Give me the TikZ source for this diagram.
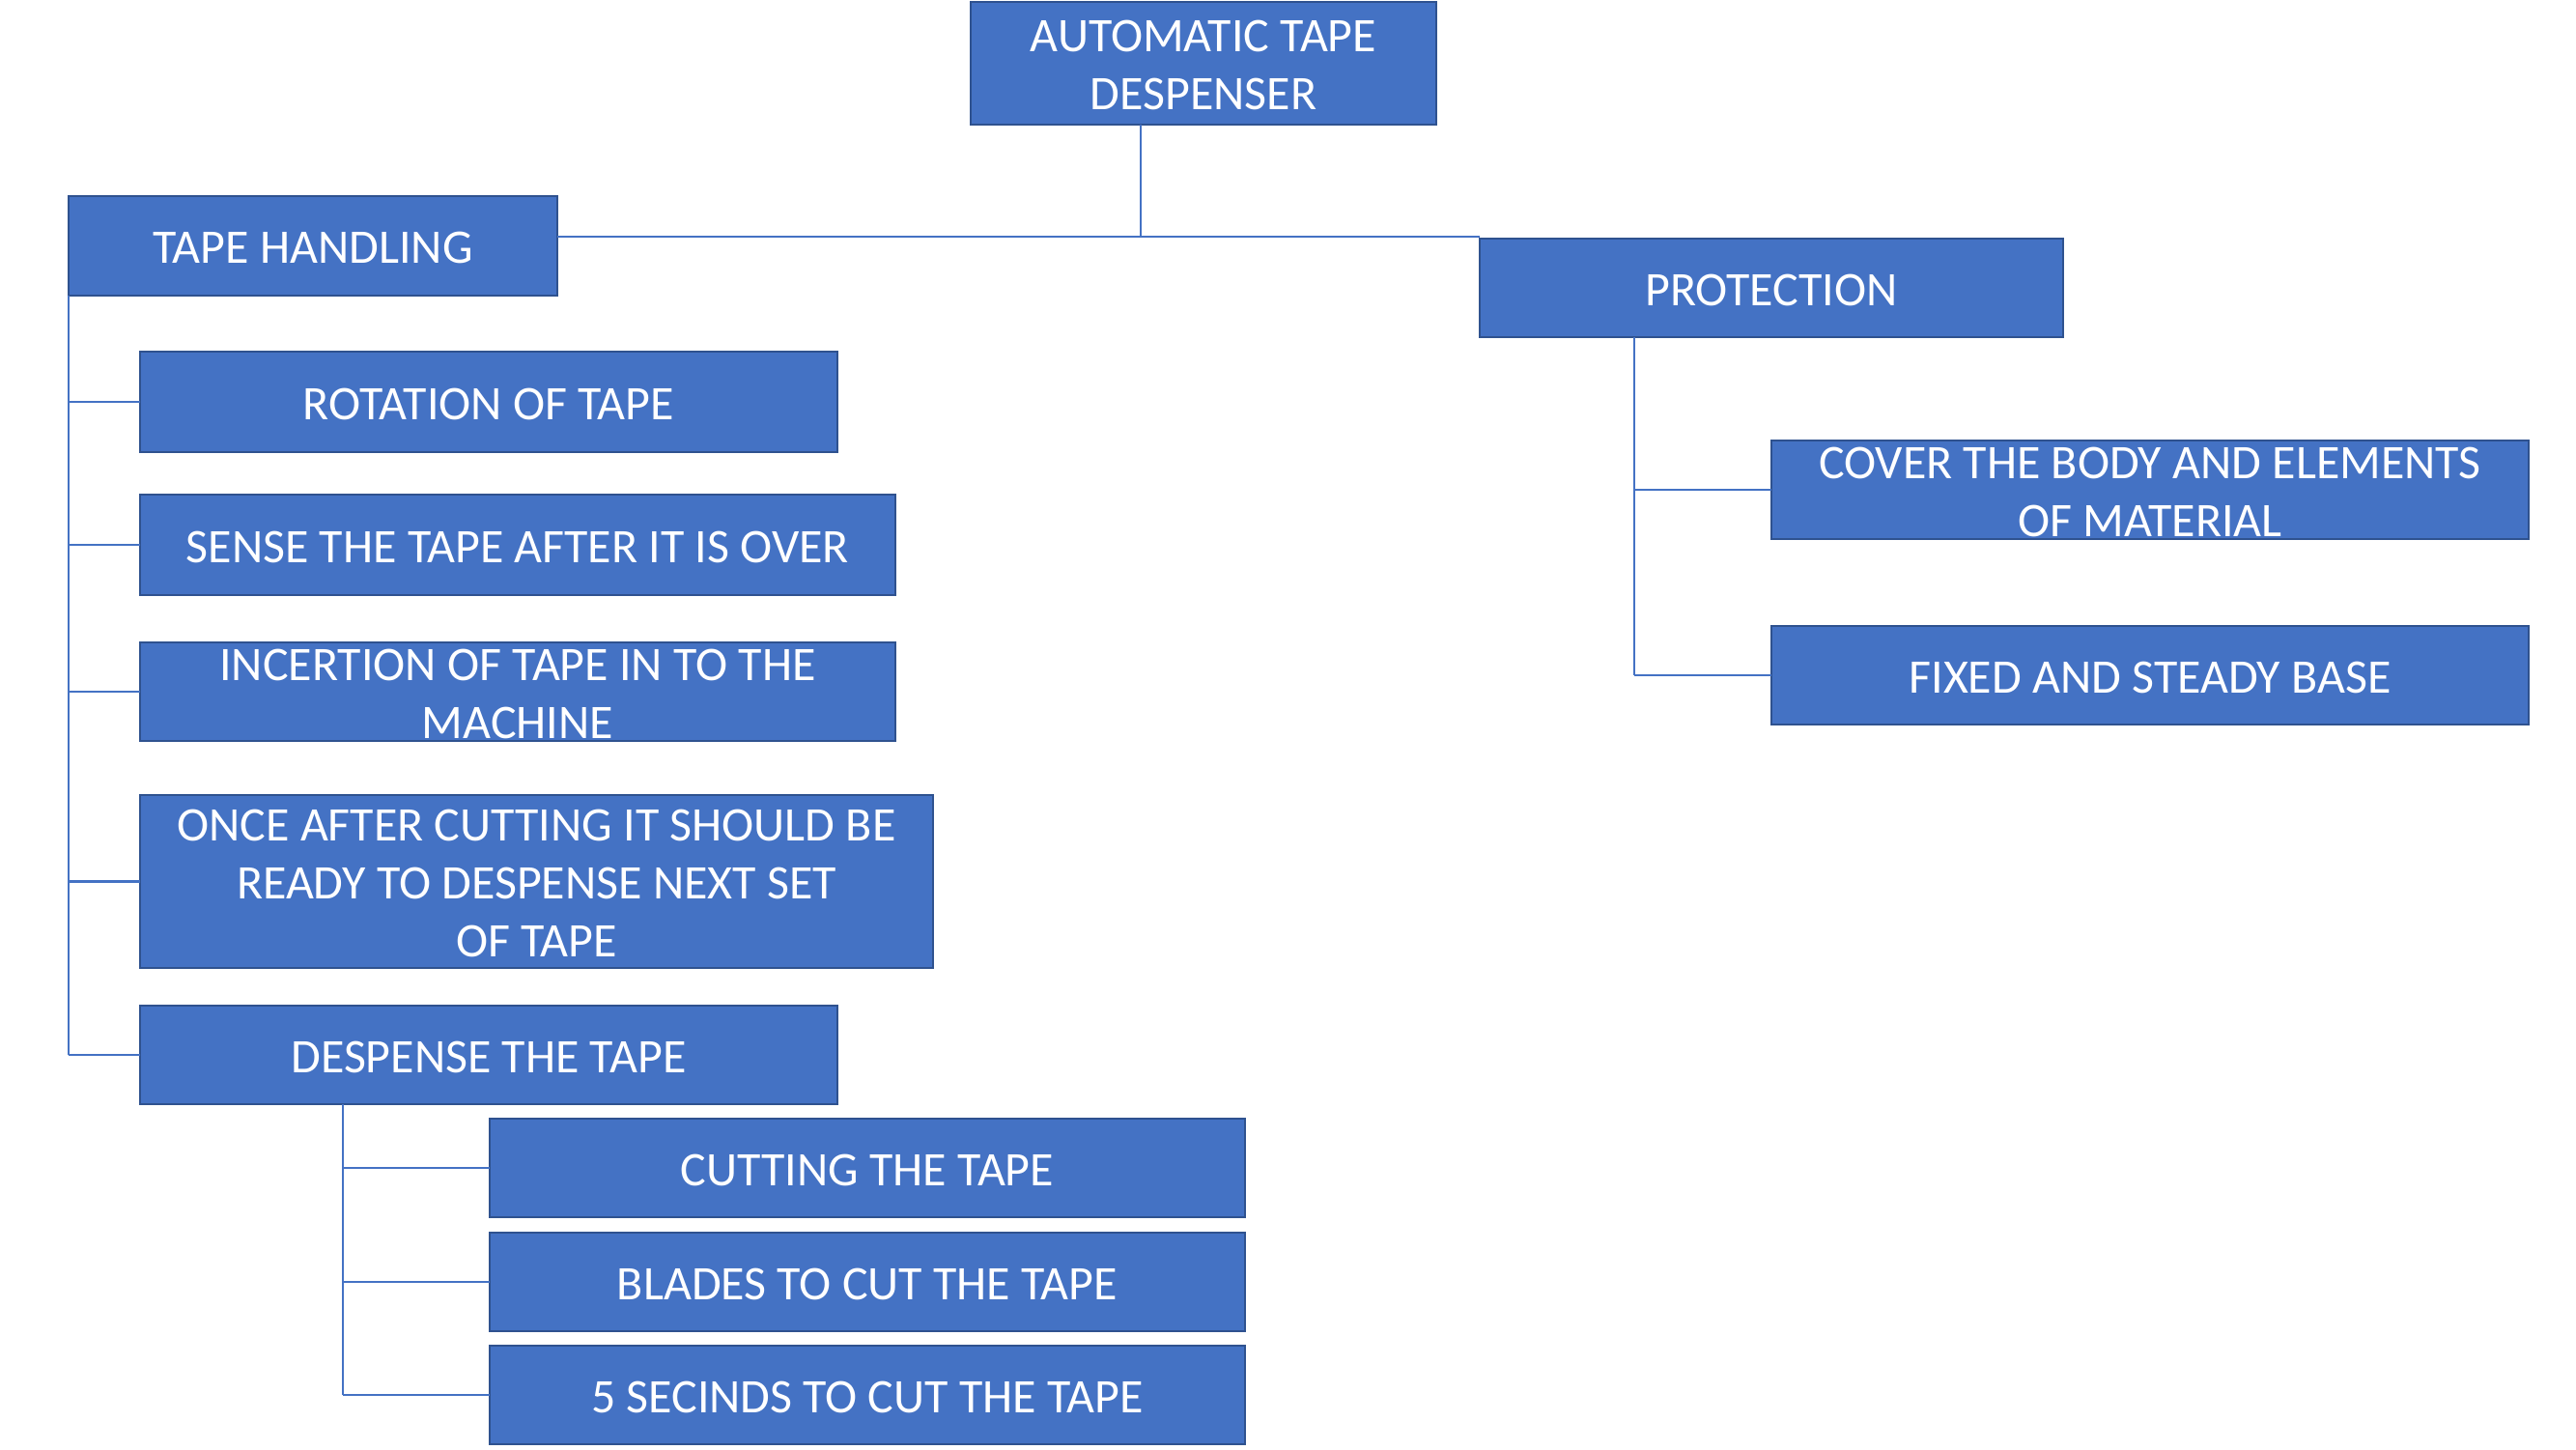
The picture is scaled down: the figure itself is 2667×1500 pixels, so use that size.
\documentclass[tikz,border=0pt]{standalone}
\usepackage{fontspec}
\setmainfont{Carlito}
\definecolor{boxfill}{HTML}{4472C4}
\definecolor{boxline}{HTML}{2F528F}
\definecolor{conn}{HTML}{4472C4}
\tikzset{
  box/.style={draw=boxline, fill=boxfill, line width=0.8pt, inner sep=0pt, outer sep=0pt},
  boxtext/.style={text=white, align=center, inner sep=0pt, yshift=-0.6pt,
    font=\fontsize{14.2}{17}\selectfont},
  link/.style={draw=conn, line width=0.6pt}
}
\newcommand\mybox[6]{%
  \node[box,minimum width={(#4-#2)*0.01cm},minimum height={(#5-#3)*0.01cm}] (#1) at ({(#2+#4)/2},{(#3+#5)/2}) {};
  \node[boxtext] (#1-t) at (#1.center) {#6};}
\begin{document}
\begin{tikzpicture}[x=0.01cm,y=-0.01cm]
\useasboundingbox (0,0) rectangle (2667,1500);
\mybox{top}{1005}{2}{1487}{129}{AUTOMATIC TAPE\\DESPENSER}
\mybox{th}{71}{203}{577}{306}{TAPE HANDLING}
\mybox{prot}{1532}{247}{2136}{349}{PROTECTION}
\mybox{rot}{145}{364}{867}{468}{ROTATION OF TAPE}
\mybox{sense}{145}{512}{927}{616}{SENSE THE TAPE AFTER IT IS OVER}
\mybox{inc}{145}{665}{927}{767}{INCERTION OF TAPE IN TO THE\\MACHINE}
\mybox{once}{145}{823}{966}{1002}{ONCE AFTER CUTTING IT SHOULD BE\\READY TO DESPENSE NEXT SET\\OF TAPE}
\mybox{desp}{145}{1041}{867}{1143}{DESPENSE THE TAPE}
\mybox{cut}{507}{1158}{1289}{1260}{CUTTING THE TAPE}
\mybox{blad}{507}{1276}{1289}{1378}{BLADES TO CUT THE TAPE}
\mybox{sec}{507}{1393}{1289}{1495}{5 SECINDS TO CUT THE TAPE}
\mybox{cover}{1834}{456}{2618}{558}{COVER THE BODY AND ELEMENTS\\OF MATERIAL}
\mybox{fixed}{1834}{648}{2618}{750}{FIXED AND STEADY BASE}
% top level connectors
\coordinate (jt) at (1181,245);
\draw[link] (top.south -| jt) -- (jt);
\draw[link] (th.east |- jt) -- (prot.west |- jt);
% tape handling tree
\coordinate (thx) at (71,0);
\draw[link] (th.south -| thx) -- (thx |- desp.west);
\foreach \c in {rot,sense,inc,once,desp}{
  \draw[link] (thx |- \c.west) -- (\c.west);
}
% protection tree
\coordinate (px) at (1692,0);
\draw[link] (prot.south -| px) -- (px |- fixed.west);
\foreach \c in {cover,fixed}{
  \draw[link] (px |- \c.west) -- (\c.west);
}
% despense tree
\coordinate (dx) at (355,0);
\draw[link] (desp.south -| dx) -- (dx |- sec.west);
\foreach \c in {cut,blad,sec}{
  \draw[link] (dx |- \c.west) -- (\c.west);
}
\end{tikzpicture}
\end{document}
